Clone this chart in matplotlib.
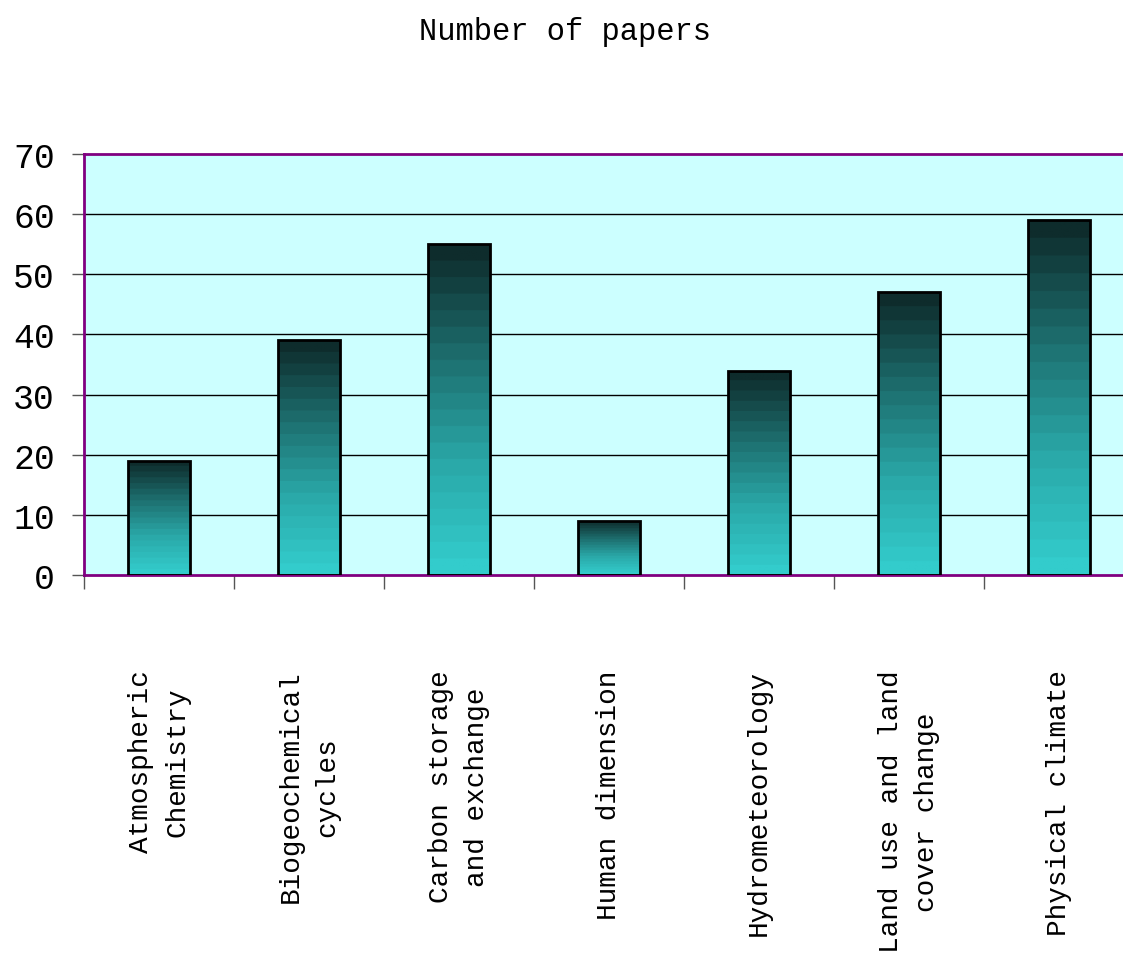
import matplotlib
matplotlib.use("Agg")
import matplotlib.pyplot as plt
import numpy as np
from matplotlib.colors import LinearSegmentedColormap

# data
categories = ["Atmospheric\nChemistry", "Biogeochemical\ncycles", "Carbon storage\nand exchange",
              "Human dimension", "Hydrometeorology", "Land use and land\ncover change",
              "Physical climate"]
papers = [19, 39, 55, 9, 34, 47, 59]
yticks = [0, 10, 20, 30, 40, 50, 60, 70]

font = "Liberation Mono"

fig = plt.figure(figsize=(11.23, 9.79), dpi=100)
ax = fig.add_axes([84 / 1123, 403 / 979, 1050 / 1123, 421 / 979])
ax.set_facecolor("#CCFFFF")

x = np.arange(len(papers))
bars = ax.bar(x, papers, width=0.41, facecolor="none", edgecolor="black", linewidth=2, zorder=3)

# banded gradient, dark on top to turquoise at the bottom
cmap = LinearSegmentedColormap.from_list("teal", ["#33CCCC", "#2AA8A8", "#1D6E6E", "#0E2C2C"], N=20)
grad = np.linspace(0, 1, 200).reshape(-1, 1)
for b in bars:
    bx, bw, bh = b.get_x(), b.get_width(), b.get_height()
    im = ax.imshow(grad, extent=[bx, bx + bw, 0, bh], origin="lower", aspect="auto",
                   cmap=cmap, zorder=2)
    im.set_clip_path(b)

ax.set_xlim(-0.5, len(papers) - 0.5)
ax.set_ylim(0, 70)
ax.set_yticks(yticks)
ax.set_yticklabels([str(v) for v in yticks], fontfamily=font, fontsize=25)
ax.tick_params(axis="y", length=9, width=1, color="#555555", pad=12)
for g in yticks[1:-1]:
    ax.axhline(g, color="black", lw=1, zorder=1)

ax.set_xticks(x)
ax.set_xticklabels(categories, rotation=90, fontfamily=font, fontsize=20,
                   va="top", ha="center", multialignment="center", linespacing=1.55)
ax.tick_params(axis="x", which="major", length=0, pad=68)
ax.set_xticks(np.arange(len(papers) + 1) - 0.5, minor=True)
ax.tick_params(axis="x", which="minor", length=10, width=1, color="#555555", direction="out")

for s in ["left", "bottom", "top", "right"]:
    ax.spines[s].set_color("#800080")
    ax.spines[s].set_linewidth(2)

fig.text(565 / 1123, 1 - 32 / 979, "Number of papers", fontfamily=font, fontsize=22,
         ha="center", va="center")

fig.savefig("out.png", dpi=100)
